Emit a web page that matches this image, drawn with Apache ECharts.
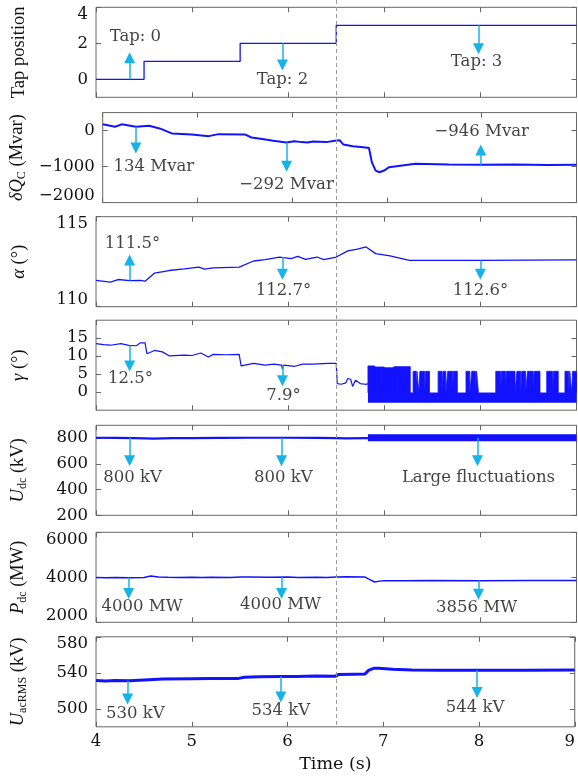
<!DOCTYPE html>
<html><head><meta charset="utf-8">
<script src="https://cdn.jsdelivr.net/npm/echarts@6/dist/echarts.min.js"></script>
<style>html,body{margin:0;padding:0;background:#fff}#c{width:578px;height:781px}</style>
</head><body><div id="c"></div>
<script>
const FONT = '"Liberation Serif", "Times New Roman", serif';
const HFONT = '"DejaVu Serif", serif';
const HSIZE = 16.5;
const BLUE = '#1212ff', CYAN = '#16b3ea';

// ---------------- data ----------------
const timeTicks = [4, 5, 6, 7, 8, 9];
const eventTime = 6.5;

const tapT = [4, 4.5, 5.5, 6.5, 9];
const tapV = [0, 1, 2, 3, 3];

const dqT = [4.0,4.13,4.2,4.35,4.49,4.6,4.73,4.94,5.12,5.22,5.5,5.57,5.7,5.8,5.94,6.02,6.1,6.16,6.22,6.36,6.45,6.5,6.54,6.64,6.75,6.81,6.84,6.88,6.92,6.97,7.02,7.16,7.3,7.65,7.99,8.34,8.7,9.0];
const dqV = [174,107,174,110,135,60,-79,-107,-154,-98,-107,-191,-239,-280,-331,-295,-320,-331,-300,-320,-280,-267,-388,-435,-460,-483,-876,-1110,-1157,-1110,-1017,-969,-921,-941,-950,-941,-955,-950];

const alphaT = [4.0,4.15,4.23,4.35,4.46,4.51,4.61,4.76,4.92,5.07,5.13,5.22,5.49,5.64,5.76,5.91,6.03,6.1,6.18,6.3,6.37,6.5,6.62,6.72,6.81,6.91,7.06,7.26,7.98,9.0];
const alphaV = [111.46,111.36,111.51,111.45,111.46,111.42,111.87,112.01,112.1,112.2,112.09,112.16,112.2,112.54,112.61,112.76,112.67,112.8,112.63,112.76,112.61,112.76,113.1,113.2,113.32,112.95,112.82,112.57,112.57,112.6];

const gammaT = [4.0,4.08,4.15,4.26,4.34,4.42,4.46,4.51,4.53,4.61,4.69,4.76,4.92,5.0,5.09,5.17,5.22,5.35,5.49,5.51,5.64,5.76,5.85,5.93,5.94,5.95,6.07,6.15,6.26,6.41,6.5,6.51,6.55,6.6,6.62,6.65,6.67,6.7,6.75,6.8,6.83];
const gammaV = [13.5,13.2,13.05,13.5,13.0,12.9,13.7,13.7,10.7,11.6,11.2,10.1,10.3,10.2,10.9,9.8,10.5,10.4,10.5,7.3,8.0,7.5,7.8,7.5,6.4,7.5,7.2,7.8,7.8,8.0,8.0,2.4,2.2,2.6,3.8,3.6,1.6,3.3,2.4,2.2,2.3];
// oscillation after 6.83 s: [start, end, top] of high bands
const gammaBands = [[6.83,6.90,7.3],[6.90,7.0,7.0],[7.0,7.1,6.8],[7.1,7.27,7.1],[7.30,7.33,5.8],[7.34,7.36,5.8],[7.37,7.42,5.8],[7.43,7.47,5.8],[7.56,7.60,5.8],[7.61,7.64,5.8],[7.66,7.71,5.8],[7.72,7.76,5.8],[7.85,7.89,5.8],[7.91,7.95,5.8],[7.96,7.98,5.8],[8.16,8.21,5.8],[8.22,8.26,5.8],[8.27,8.36,5.8],[8.38,8.42,5.8],[8.43,8.47,5.8],[8.49,8.55,5.8],[8.56,8.62,5.8],[8.69,8.75,5.8],[8.76,8.81,5.8],[8.88,8.92,5.8],[8.93,8.95,5.8],[8.96,9.0,5.8]];
const gammaLowTop = -0.2;
const gammaBottom = -2.9;

const udcT = [4.0,4.2,4.4,4.6,4.8,5.0,5.3,5.6,6.0,6.3,6.5,6.6,6.83];
const udcV = [803,802,801,797,800,801,802,803,803,802,800,798,800];
const udcBandT = [6.83, 9.0];
const udcBandHigh = 826;
const udcBandLow = 775;

const pdcT = [4.0,4.1,4.2,4.35,4.5,4.57,4.65,4.75,4.85,5.0,5.1,5.2,5.4,5.5,5.6,5.8,6.0,6.1,6.3,6.4,6.5,6.6,6.8,6.85,6.9,6.95,7.0,7.2,7.5,8.0,8.5,9.0];
const pdcV = [3990,3985,3995,3980,3990,4060,4010,4000,3995,4000,3990,4000,3995,4010,4015,4005,4010,3995,4000,3990,4010,4020,4010,3900,3790,3830,3850,3845,3856,3850,3855,3860];

const uacT = [4.0,4.1,4.2,4.35,4.5,4.7,5.0,5.2,5.49,5.55,5.7,5.94,6.1,6.3,6.5,6.53,6.7,6.81,6.85,6.9,6.95,7.1,7.3,7.6,8.0,8.5,9.0];
const uacV = [531.5,531,531.5,531.2,532,533,533.5,533.8,533.8,535,535.5,535.9,536,536.5,536.3,538,538.5,538.8,543,545,545,544,543,542.7,542.8,542.8,543];

// annotations: [arrow t, arrow from, arrow to, text t, text v, text]
const tapNotes = [[4.35,0,1.2,4.41,2.36,'Tap: 0'],[5.94,2,0.8,5.94,0.0,'Tap: 2'],[7.98,3,1.7,7.96,0.96,'Tap: 3']];
const dqNotes = [[4.35,107,-480,4.54,-1017,'134 Mvar'],[5.94,-331,-990,5.94,-1503,'\u2212292 Mvar'],[7.99,-950,-540,8.0,-33,'\u2212946 Mvar']];
const alphaNotes = [[4.35,111.45,112.6,4.38,113.5,'111.5\u00b0'],[5.94,112.76,111.8,5.95,110.9,'112.7\u00b0'],[8.0,112.57,111.8,8.0,110.9,'112.6\u00b0']];
const gammaNotes = [[4.35,13.0,7.3,4.36,3.8,'12.5\u00b0'],[5.94,7.5,3.2,5.95,-0.9,'7.9\u00b0']];
const udcNotes = [[4.35,804,625,4.38,491,'800 kV'],[5.93,804,625,5.95,491,'800 kV'],[7.97,804,625,7.98,491,'Large fluctuations']];
const pdcNotes = [[4.34,3995,3280,4.48,2711,'4000 MW'],[5.93,4005,3280,5.92,2785,'4000 MW'],[7.98,3856,3250,7.96,2667,'3856 MW']];
const uacNotes = [[4.33,531.2,511,4.41,494.7,'530 kV'],[5.93,535.9,513,5.93,498.4,'534 kV'],[7.98,542.8,518,7.96,501.3,'544 kV']];

// ---------------- layout ----------------
const tops = [7.3,112.6,216.7,320.2,425.3,532.3,636.8];
const H = 90;
const panels = [
  {min:-1, max:4, labels:[0,2,4], name:'{n|Tap position}', sTop:true, sBot:false},
  {min:-2000, max:500, labels:[-2000,-1000,0], name:'{i|\u03b4Q}{s|C}{n| (Mvar)}', sTop:false, sBot:true},
  {min:110, max:115, labels:[110,115], name:'{i|\u03b1}{n| (\u00b0)}', sTop:true, sBot:true},
  {min:-5, max:20, labels:[0,5,10,15], name:'{i|\u03b3}{n| (\u00b0)}', sTop:false, sBot:false},
  {min:200, max:900, labels:[200,400,600,800], name:'{i|U}{s|dc}{n| (kV)}', sTop:false, sBot:false},
  {min:2000, max:6000, labels:[2000,4000,6000], name:'{i|P}{s|dc}{n| (MW)}', sTop:true, sBot:true},
  {min:480, max:580, labels:[500,540,580], name:'{i|U}{s|acRMS}{n| (kV)}', sTop:true, sBot:false}
];

const nameRich = {
  n:{fontFamily:FONT, fontSize:18.5, color:'#111'},
  i:{fontFamily:FONT, fontSize:18.5, fontStyle:'italic', color:'#111'},
  s:{fontFamily:FONT, fontSize:12, color:'#111', verticalAlign:'bottom', padding:[9,0,0,0]}
};
const tickRich = {
  t:{fontFamily:HFONT, fontSize:HSIZE, color:'#111', padding:[14,0,0,0]},
  b:{fontFamily:HFONT, fontSize:HSIZE, color:'#111', padding:[0,0,14,0]},
  r:{fontFamily:HFONT, fontSize:HSIZE, color:'#111', padding:[0,10,0,0]}
};
const fmtNum = v => v < 0 ? '\u2212' + Math.abs(v) : String(v);

const grids = [], xAxes = [], yAxes = [], series = [];
panels.forEach((p, i) => {
  grids.push({left:96, right:1.5, top:tops[i], height:H, show:true, borderColor:'#666', borderWidth:1, backgroundColor:'transparent'});
  const last = i === panels.length - 1;
  const xBase = {type:'value', gridIndex:i, min:4, max:9, interval:1, splitLine:{show:false},
    axisLine:{show:false, onZero:false}, axisTick:{inside:true, length:5, lineStyle:{color:'#666'}}};
  xAxes.push(Object.assign({}, xBase, {position:'bottom',
    axisLabel:{show:last, margin:6, fontFamily:HFONT, fontSize:HSIZE, color:'#111',
      formatter: v => v === 9 ? '{r|9}' : String(v), rich:tickRich},
    name: last ? 'Time (s)' : '', nameLocation:'middle', nameGap:29,
    nameTextStyle:{fontFamily:HFONT, fontSize:17.5, color:'#111'}}));
  xAxes.push(Object.assign({}, xBase, {position:'top', axisLabel:{show:false}}));
  const yBase = {type:'value', gridIndex:i, min:p.min, max:p.max, splitLine:{show:false}, axisLine:{show:false, onZero:false},
    axisTick:{inside:true, length:5, lineStyle:{color:'#666'}, customValues:p.labels}};
  yAxes.push(Object.assign({}, yBase, {position:'left',
    axisLabel:{show:true, margin:8, fontFamily:HFONT, fontSize:HSIZE, color:'#111', customValues:p.labels,
      formatter: v => { const s = fmtNum(v); if (p.sTop && v === p.max) return '{t|'+s+'}'; if (p.sBot && v === p.min) return '{b|'+s+'}'; return s; },
      rich:tickRich},
    name:p.name, nameLocation:'middle', nameRotate:90, nameGap:67,
    nameTextStyle:{rich:nameRich, fontFamily:FONT, fontSize:18.5, color:'#111'}}));
  yAxes.push(Object.assign({}, yBase, {position:'right', axisLabel:{show:false}}));
});

const pairs = (t, v) => t.map((x, k) => [x, v[k]]);
function line(i, data, width, extra) {
  return Object.assign({type:'line', xAxisIndex:2*i, yAxisIndex:2*i, data:data, symbol:'none', showSymbol:false,
    lineStyle:{color:BLUE, width:width}, itemStyle:{color:BLUE}, silent:true, animation:false, z:3}, extra || {});
}
function notes(i, list) {
  return {type:'scatter', xAxisIndex:2*i, yAxisIndex:2*i, symbol:'circle', symbolSize:0, silent:true, animation:false, z:5,
    data:list.map(n => [n[3], n[4], n[5]]),
    label:{show:true, position:'inside', formatter:q => q.data[2], fontFamily:HFONT, fontSize:HSIZE, color:'#111'},
    labelLayout:{hideOverlap:false},
    markLine:{silent:true, animation:false, symbol:['none','triangle'], symbolSize:[11,11], precision:4,
      lineStyle:{color:CYAN, width:1.5, type:'solid'}, itemStyle:{color:CYAN}, label:{show:false},
      emphasis:{disabled:true},
      data:list.map(n => [{coord:[n[0], n[1]]}, {coord:[n[0], n[2]]}])}};
}

series.push(line(0, pairs(tapT, tapV), 1.3, {step:'end'}));
series.push(notes(0, tapNotes));
series.push(line(1, pairs(dqT, dqV), 2));
series.push(notes(1, dqNotes));
series.push(line(2, pairs(alphaT, alphaV), 1.3));
series.push(notes(2, alphaNotes));
series.push(line(3, pairs(gammaT, gammaV), 1.2));
const env = [];
gammaBands.forEach(b => { env.push([b[0], gammaLowTop], [b[0], b[2]], [b[1], b[2]], [b[1], gammaLowTop]); });
series.push(line(3, env, 0.8, {areaStyle:{color:BLUE, opacity:1, origin:gammaBottom}}));
series.push(notes(3, gammaNotes));
series.push(line(4, pairs(udcT, udcV), 2.2));
series.push(line(4, udcBandT.map(t => [t, udcBandHigh]), 1, {areaStyle:{color:BLUE, opacity:1, origin:udcBandLow}}));
series.push(notes(4, udcNotes));
series.push(line(5, pairs(pdcT, pdcV), 1.5));
series.push(notes(5, pdcNotes));
series.push(line(6, pairs(uacT, uacV), 3));
series.push(notes(6, uacNotes));

const chart = echarts.init(document.getElementById('c'), null, {renderer:'canvas'});
chart.setOption({animation:false, backgroundColor:'#fff', grid:grids, xAxis:xAxes, yAxis:yAxes, series:series});

const xp = chart.convertToPixel({xAxisIndex:0}, eventTime);
const yEnd = chart.convertToPixel({yAxisIndex:12}, panels[6].min);
chart.setOption({graphic:[{type:'line', silent:true, z:10,
  shape:{x1:Math.round(xp)+0.5, y1:0, x2:Math.round(xp)+0.5, y2:yEnd},
  style:{stroke:'#9a9a9a', lineWidth:1, lineDash:[4,3]}}]});
</script></body></html>
